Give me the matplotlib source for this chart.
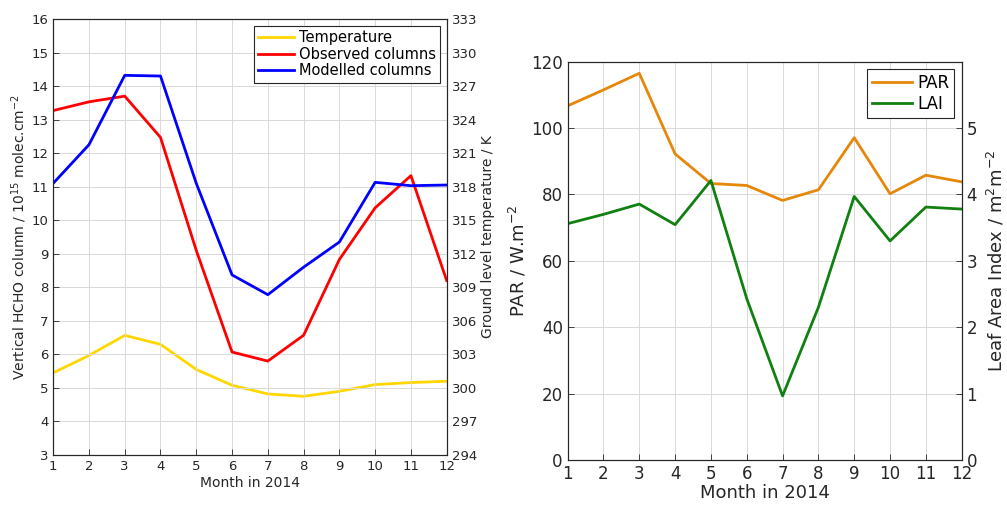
import matplotlib
matplotlib.use("Agg")
import matplotlib.pyplot as plt

months = list(range(1, 13))

# left panel
observed = [13.27, 13.53, 13.70, 12.47, 9.10, 6.07, 5.80, 6.57, 8.83, 10.37, 11.33, 8.20]
modelled = [11.10, 12.25, 14.32, 14.30, 11.10, 8.37, 7.78, 8.60, 9.35, 11.13, 11.03, 11.05]
temperature = [301.35, 302.9, 304.7, 303.9, 301.65, 300.24, 299.46, 299.25, 299.7, 300.3, 300.48, 300.6]

# right panel
par = [106.7, 111.5, 116.5, 92.2, 83.3, 82.7, 78.2, 81.4, 97.1, 80.2, 85.8, 83.8]
lai = [3.56, 3.70, 3.855, 3.545, 4.21, 2.43, 0.965, 2.30, 3.97, 3.30, 3.81, 3.78]

txt = '#262626'
plt.rcParams['font.family'] = 'DejaVu Sans'
plt.rcParams['mathtext.fontset'] = 'dejavusans'


def style(ax, size):
    ax.tick_params(direction='in', labelsize=size, colors=txt, length=4, width=0.6)
    for s in ax.spines.values():
        s.set_color(txt)
        s.set_linewidth(0.8)


fig = plt.figure(figsize=(10.07, 5.11), dpi=100)

ax1 = fig.add_axes([0.0528, 0.1096, 0.3908, 0.8532])
ax1b = ax1.twinx()
l_obs, = ax1.plot(months, observed, color='#ff0000', lw=2)
l_mod, = ax1.plot(months, modelled, color='#0000ff', lw=2)
l_tmp, = ax1b.plot(months, temperature, color='#ffd700', lw=2)
ax1.set_xlim(1, 12)
ax1.set_ylim(3, 16)
ax1.set_yticks(range(3, 17))
ax1.set_xticks(months)
ax1b.set_ylim(294, 333)
ax1b.set_yticks(range(294, 334, 3))
ax1.grid(True, color='#d9d9d9', lw=0.7)
ax1.set_axisbelow(True)
ax1.set_xlabel('Month in 2014', fontsize=10, color=txt, labelpad=2)
ax1.set_ylabel('Vertical HCHO column / 10$^{15}$ molec.cm$^{-2}$', fontsize=10, color=txt, labelpad=2)
ax1b.set_ylabel('Ground level temperature / K', fontsize=10, color=txt, labelpad=3)
style(ax1, 9.5)
style(ax1b, 9.5)
leg = ax1.legend([l_tmp, l_obs, l_mod], ['Temperature', 'Observed columns', 'Modelled columns'],
                 loc='upper right', fontsize=10.5, fancybox=False, framealpha=1,
                 borderaxespad=0.45, handlelength=2.5, handletextpad=0.3,
                 borderpad=0.3, labelspacing=0.12)
leg.get_frame().set_edgecolor(txt)
leg.get_frame().set_linewidth(0.8)
leg.set_zorder(10)
ax1.set_zorder(ax1b.get_zorder() + 1)
ax1.patch.set_visible(False)

ax2 = fig.add_axes([0.5637, 0.0998, 0.3913, 0.7795])
ax2b = ax2.twinx()
l_par, = ax2.plot(months, par, color='#e6870a', lw=2)
l_lai, = ax2b.plot(months, lai, color='#108010', lw=2)
ax2.set_xlim(1, 12)
ax2.set_ylim(0, 120)
ax2.set_yticks(range(0, 121, 20))
ax2.set_xticks(months)
ax2b.set_ylim(0, 6)
ax2b.set_yticks(range(0, 6))
ax2.grid(True, color='#d9d9d9', lw=0.7)
ax2.set_axisbelow(True)
ax2.set_xlabel('Month in 2014', fontsize=13, color=txt, labelpad=1)
ax2.set_ylabel('PAR / W.m$^{-2}$', fontsize=13, color=txt, labelpad=2)
ax2b.set_ylabel('Leaf Area Index / m$^2$m$^{-2}$', fontsize=13, color=txt, labelpad=6)
style(ax2, 12)
style(ax2b, 12)
leg2 = ax2b.legend([l_par, l_lai], ['PAR', 'LAI'], loc='upper right', fontsize=12,
                   fancybox=False, framealpha=1, borderaxespad=0.45,
                   handlelength=2.4, handletextpad=0.3, borderpad=0.3,
                   labelspacing=0.15)
leg2.get_frame().set_edgecolor(txt)
leg2.get_frame().set_linewidth(0.8)

fig.savefig('out.png', dpi=100)
